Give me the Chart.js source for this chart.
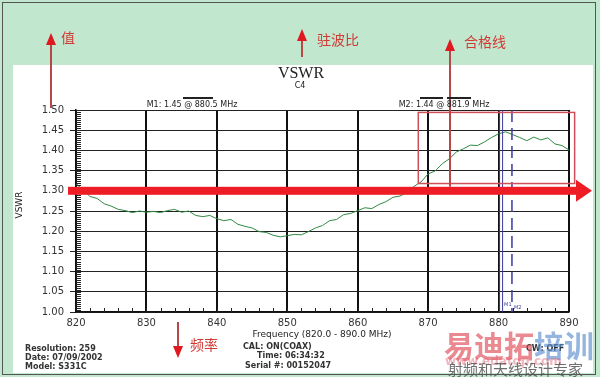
<!DOCTYPE html>
<html>
<head>
<meta charset="utf-8">
<script src="https://cdn.jsdelivr.net/npm/chart.js@4.4.1/dist/chart.umd.min.js"></script>
<style>
  html, body { margin: 0; padding: 0; background: #fff; }
  canvas { display: block; }
</style>
</head>
<body>
<canvas id="myChart" width="600" height="377"></canvas>
<script>
let freqs = [820, 821, 822, 823, 824, 825, 826, 827, 828, 829,
	830, 831, 832, 833, 834, 835, 836, 837, 838, 839,
	840, 841, 842, 843, 844, 845, 846, 847, 848, 849,
	850, 851, 852, 853, 854, 855, 856, 857, 858, 859,
	860, 861, 862, 863, 864, 865, 866, 867, 868, 869,
	870, 871, 872, 873, 874, 875, 876, 877, 878, 879,
	880, 881, 882, 883, 884, 885, 886, 887, 888, 889, 890];
let vswr = [1.318, 1.302, 1.286, 1.281, 1.268, 1.262, 1.254, 1.251, 1.246, 1.250,
	1.247, 1.249, 1.246, 1.251, 1.254, 1.247, 1.250, 1.239, 1.236, 1.239,
	1.231, 1.226, 1.229, 1.217, 1.212, 1.208, 1.199, 1.197, 1.190, 1.186,
	1.189, 1.192, 1.191, 1.199, 1.208, 1.214, 1.226, 1.229, 1.241, 1.244,
	1.251, 1.258, 1.256, 1.266, 1.273, 1.284, 1.287, 1.296, 1.311, 1.322,
	1.342, 1.349, 1.367, 1.379, 1.396, 1.404, 1.413, 1.412, 1.421, 1.432,
	1.441, 1.446, 1.439, 1.432, 1.424, 1.433, 1.426, 1.431, 1.416, 1.412, 1.401];

// axis ticks
let xTicks = [820, 830, 840, 850, 860, 870, 880, 890];
let yTicks = [1.00, 1.05, 1.10, 1.15, 1.20, 1.25, 1.30, 1.35, 1.40, 1.45, 1.50];

// markers and limit line
let markerM1 = 880.5;
let markerM2 = 881.9;
let limitLine = 1.30;

let points = freqs.map((f, i) => ({ x: f, y: vswr[i] }));

function arrowHead(c, x, y, dir, w, h, color) {
	c.fillStyle = color;
	c.beginPath();
	if (dir === 'up') {
		c.moveTo(x, y); c.lineTo(x - w / 2, y + h); c.lineTo(x + w / 2, y + h);
	} else if (dir === 'down') {
		c.moveTo(x, y); c.lineTo(x - w / 2, y - h); c.lineTo(x + w / 2, y - h);
	} else {
		c.moveTo(x, y); c.lineTo(x - h, y - w / 2); c.lineTo(x - h, y + w / 2);
	}
	c.closePath();
	c.fill();
}

let decor = {
	id: 'decor',
	beforeDraw(chart) {
		let c = chart.ctx;
		c.save();
		c.fillStyle = '#c2e7cf';
		c.fillRect(0, 0, 600, 377);
		c.fillStyle = '#ffffff';
		c.fillRect(13, 65, 580, 308);
		c.strokeStyle = '#555';
		c.lineWidth = 1;
		c.strokeRect(2.5, 2.5, 593, 372);
		c.restore();
	},
	afterDatasetsDraw(chart) {
		let c = chart.ctx;
		let xs = chart.scales.x, ys = chart.scales.y;
		let a = chart.chartArea;
		c.save();

		// minor ticks
		c.strokeStyle = '#222';
		c.lineWidth = 1;
		c.beginPath();
		for (let v = 1.0; v < 1.5; v += 0.005) {
			let py = Math.round(ys.getPixelForValue(v)) + 0.5;
			c.moveTo(a.left, py); c.lineTo(a.left + 5, py);
		}
		for (let f = 822; f < 890; f += 2) {
			let px = Math.round(xs.getPixelForValue(f)) + 0.5;
			c.moveTo(px, a.bottom); c.lineTo(px, a.bottom - 4);
		}
		c.stroke();

		// markers
		let m1 = xs.getPixelForValue(markerM1);
		let m2 = xs.getPixelForValue(markerM2);
		c.strokeStyle = '#3a3aa0';
		c.lineWidth = 1;
		c.beginPath();
		c.moveTo(m1 - 2.5, a.top); c.lineTo(m1 - 2.5, a.bottom);
		c.moveTo(m1 + 0.5, a.top); c.lineTo(m1 + 0.5, a.bottom);
		c.stroke();
		c.lineWidth = 1.5;
		c.setLineDash([12, 6]);
		c.beginPath();
		c.moveTo(m2, a.top); c.lineTo(m2, a.bottom);
		c.stroke();
		c.setLineDash([]);
		c.fillStyle = '#3a3aa0';
		c.font = '5px "DejaVu Sans"';
		c.fillText('M1', m1 + 2, a.bottom - 6);
		c.fillText('M2', m2 + 2, a.bottom - 3);

		// pass-zone box
		c.strokeStyle = '#d0505a';
		c.lineWidth = 1.5;
		c.strokeRect(xs.getPixelForValue(868.6), ys.getPixelForValue(1.494),
			xs.getPixelForValue(890.8) - xs.getPixelForValue(868.6),
			ys.getPixelForValue(1.318) - ys.getPixelForValue(1.494));

		// thick red limit arrow
		let ly = ys.getPixelForValue(limitLine);
		c.fillStyle = '#ee1c24';
		c.fillRect(68, ly - 4, 510, 8);
		arrowHead(c, 592, ly, 'right', 22, 16, '#ee1c24');

		// vertical annotation arrows
		let red = '#d03a34';
		c.strokeStyle = '#b84848';
		c.lineWidth = 2;
		c.beginPath();
		c.moveTo(51, 108); c.lineTo(51, 42);
		c.moveTo(302, 57); c.lineTo(302, 38);
		c.moveTo(450, ly - 4); c.lineTo(450, 48);
		c.moveTo(178, 322); c.lineTo(178, 348);
		c.stroke();
		arrowHead(c, 51, 33, 'up', 10, 12, '#e01820');
		arrowHead(c, 302, 29, 'up', 10, 12, '#e01820');
		arrowHead(c, 450, 39, 'up', 10, 12, '#e01820');
		arrowHead(c, 178, 358, 'down', 10, 12, '#e01820');

		c.fillStyle = red;
		c.font = '14px "Noto Sans CJK SC"';
		c.textBaseline = 'middle';
		c.fillText('值', 61, 38);
		c.fillText('驻波比', 317, 40);
		c.fillText('合格线', 464, 42);
		c.fillText('频率', 190, 345);

		// title
		c.fillStyle = '#222';
		c.textAlign = 'center';
		c.font = '16px "Liberation Serif"';
		c.fillText('VSWR', 301, 74);
		c.font = '8px "DejaVu Sans"';
		c.fillText('C4', 300, 86);

		// marker readouts
		c.font = '8px "DejaVu Sans"';
		c.fillText('M1: 1.45 @ 880.5 MHz', 192, 105);
		c.fillText('M2: 1.44 @ 881.9 MHz', 444, 105);
		c.fillRect(183, 97, 30, 2);
		c.fillRect(420, 97, 23, 2);
		c.fillRect(447, 97, 24, 2);

		// axis titles
		c.font = '9px "DejaVu Sans"';
		c.fillText('Frequency (820.0 - 890.0 MHz)', 322, 335);
		c.save();
		c.translate(20, 205);
		c.rotate(-Math.PI / 2);
		c.fillText('VSWR', 0, 0);
		c.restore();

		// instrument info
		c.textAlign = 'left';
		c.fillStyle = '#333';
		c.font = 'bold 8px "DejaVu Sans"';
		c.fillText('Resolution: 259', 25, 349);
		c.fillText('Date: 07/09/2002', 25, 358);
		c.fillText('Model: S331C', 25, 367);
		c.fillText('CAL: ON(COAX)', 243, 347);
		c.fillText('Time: 06:34:32', 257, 356);
		c.fillText('Serial #: 00152047', 245, 366);
		c.fillText('CW: OFF', 526, 349);

		// watermark
		c.globalAlpha = 0.65;
		c.font = 'bold 30px "Noto Sans CJK SC"';
		c.fillStyle = '#e04a55';
		c.fillText('易迪拓', 444, 346);
		c.fillStyle = '#5a8ed0';
		c.fillText('培训', 534, 346);
		c.globalAlpha = 0.45;
		c.font = 'bold 12px "DejaVu Sans"';
		c.fillStyle = '#e06070';
		c.fillText('www.edatop.com', 445, 362);
		c.globalAlpha = 0.85;
		c.font = '15px "Noto Sans CJK SC"';
		c.fillStyle = '#555';
		c.fillText('射频和天线设计专家', 448, 369);
		c.restore();
	}
};

let ctx = document.getElementById('myChart').getContext('2d');
new Chart(ctx, {
	type: 'line',
	data: {
		datasets: [
			{
				label: 'VSWR',
				data: points,
				borderColor: '#2f8a42',
				borderWidth: 1,
				pointRadius: 0,
				tension: 0,
			},
		],
	},
	options: {
		responsive: false,
		animation: false,
		layout: { padding: { top: 110, right: 31, bottom: 0, left: 0 } },
		plugins: { legend: { display: false }, tooltip: { enabled: false } },
		scales: {
			x: {
				type: 'linear',
				min: 820,
				max: 890,
				afterFit(scale) { scale.height = 65; },
				afterBuildTicks(scale) { scale.ticks = xTicks.map((v) => ({ value: v })); },
				ticks: { color: '#333', font: { family: 'DejaVu Sans', size: 10 }, padding: 5, maxRotation: 0 },
				grid: { color: '#111', lineWidth: 2, drawTicks: false },
				border: { color: '#111', width: 1.5 },
			},
			y: {
				min: 1.0,
				max: 1.5,
				afterFit(scale) { scale.width = 76; },
				afterBuildTicks(scale) { scale.ticks = yTicks.map((v) => ({ value: v })); },
				ticks: {
					color: '#333',
					font: { family: 'DejaVu Sans', size: 10 },
					padding: 6,
					callback: (v) => Number(v).toFixed(2),
				},
				grid: { color: '#222', lineWidth: 1, tickLength: 6 },
				border: { color: '#111', width: 1.5 },
			},
		},
	},
	plugins: [decor],
});
</script>
</body>
</html>
